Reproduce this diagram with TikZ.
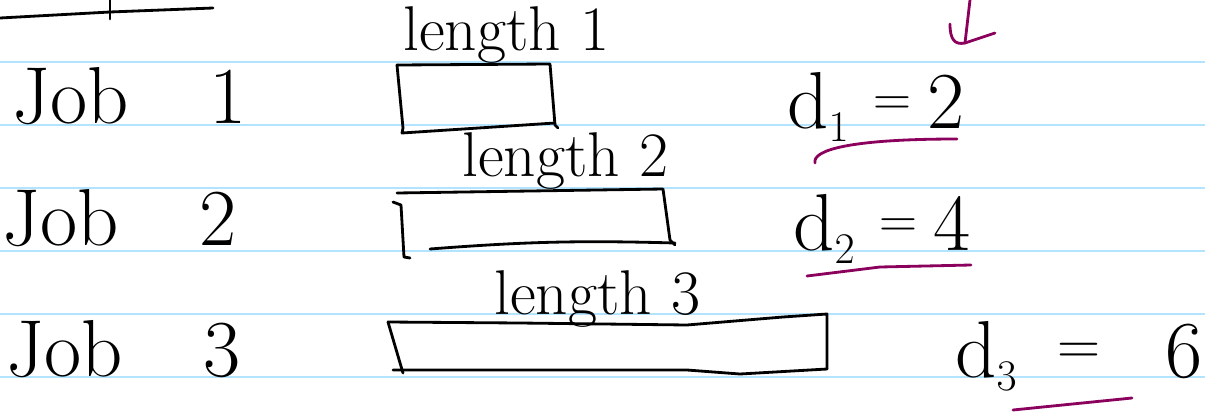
\documentclass[tikz,border=0pt]{standalone}
\begin{document}
\begin{tikzpicture}[x=0.02cm,y=-0.02cm,
  ruling/.style={draw=blue!35!cyan!30, line width=1.3pt},
  ink/.style={draw=black, line width=1.6pt, line cap=round, line join=round},
  purp/.style={draw=violet!60!purple!90!black, line width=1.6pt, line cap=round, line join=round},
  big/.style={font=\fontsize{46}{50}\selectfont, inner sep=0pt},
  mid/.style={font=\fontsize{36}{40}\selectfont, inner sep=0pt}]
\useasboundingbox (0,0) rectangle (1205,413);
\fill[white] (0,0) rectangle (1205,413);
% ruled lines
\foreach \yy in {62,125,188,251,314,377}
  \draw[ruling] (0,\yy) -- (1205,\yy);
% top-left stroke
\draw[ink] (0,18) -- (110,12) -- (213,8);
\draw[ink] (110,0) -- (110,19);
% job labels
\node[big, anchor=base west] (j1) at (12,123) {Job\hspace{1em}1};
\node[big, anchor=base west] (j2) at (2,245) {Job\hspace{1em}2};
\node[big, anchor=base west] (j3) at (6,376) {Job\hspace{1em}3};
% length labels
\node[mid, anchor=base west] (l1) at (403,50) {length 1};
\node[mid, anchor=base west] (l2) at (462,176) {length 2};
\node[mid, anchor=base west] (l3) at (494,314) {length 3};
% boxes
\draw[ink] (397,65) -- (550,64) -- (555,125) -- (558,128);
\draw[ink] (397,65) -- (403,128) -- (402,133) -- (555,123);
\draw[ink] (397,193) -- (663,189) -- (670,240) -- (675,245);
\draw[ink] (430,249) to[bend left=3] (675,243);
\draw[ink] (393,202) -- (401,205) -- (404,257) -- (410,258);
\draw[ink] (388,322) -- (520,323) -- (687,325) -- (783,317) -- (827,314) -- (827,369);
\draw[ink] (388,322) -- (403,373);
\draw[ink] (393,370) -- (687,370) -- (740,374) -- (827,369);
% deadlines
\node[big, anchor=base west] (d1) at (787,128) {d$_1$\hspace{0.3em}\raisebox{0.15em}{\fontsize{30}{32}\selectfont =}\hspace{0.2em}2};
\node[big, anchor=base west] (d2) at (793,250) {d$_2$\hspace{0.3em}\raisebox{0.15em}{\fontsize{30}{32}\selectfont =}\hspace{0.2em}4};
\node[big, anchor=base west] (d3) at (955,377) {d$_3$\hspace{0.5em}\raisebox{0.15em}{\fontsize{34}{36}\selectfont =}\hspace{0.8em}6};
% purple marks
\draw[purp] (970,0) -- (965,43);
\draw[purp] (950,24) .. controls (950,40) and (955,45) .. (965,43) -- (995,33);
\draw[purp] (815,163) .. controls (812,150) and (850,139) .. (957,139);
\draw[purp] (807,276) -- (880,267) -- (971,265);
\draw[purp] (1013,410) -- (1132,398);
\end{tikzpicture}
\end{document}
